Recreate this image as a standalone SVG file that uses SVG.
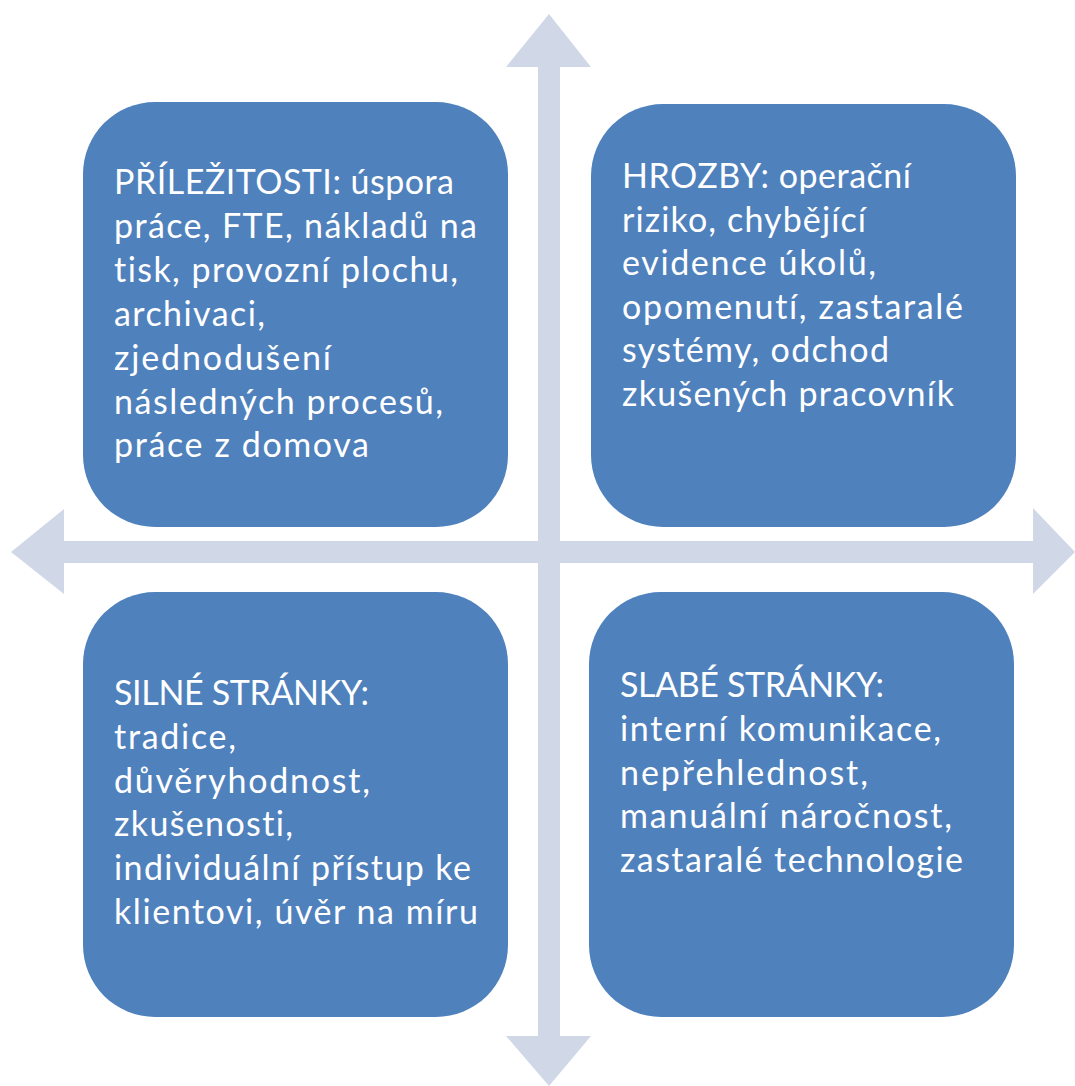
<svg xmlns="http://www.w3.org/2000/svg" width="1075" height="1086" viewBox="0 0 1075 1086">
  <style>
    .axis { fill: #D0D8E8; }
    .box { fill: #4F81BD; }
    .label { font-family: Lato, "Liberation Sans", sans-serif; font-size: 34px; fill: #FFFFFF; font-variant-ligatures: none; }
  </style>
  <rect width="1075" height="1086" fill="#FFFFFF"/>

  <!-- axes: vertical and horizontal double-headed arrows -->
  <g id="connectors">
    <polygon class="axis" points="549,14 591,67 560,67 560,1036 591,1036 549,1086 506,1036 538,1036 538,67 506,67"/>
    <polygon class="axis" points="11,552 64,509 64,541 1033,541 1033,508 1075,552 1033,594 1033,563 64,563 64,594"/>
  </g>

  <!-- opportunities -->
  <g id="opportunities">
    <rect class="box" x="83" y="102" width="425" height="425" rx="72" ry="72"/>
    <text class="label" lengthAdjust="spacing">
      <tspan x="114" y="194" textLength="340">PŘÍLEŽITOSTI: úspora</tspan>
      <tspan x="114" y="238" textLength="363">práce, FTE, nákladů na</tspan>
      <tspan x="114" y="282" textLength="344">tisk, provozní plochu,</tspan>
      <tspan x="114" y="326" textLength="151">archivaci,</tspan>
      <tspan x="114" y="370" textLength="217">zjednodušení</tspan>
      <tspan x="114" y="414" textLength="329">následných procesů,</tspan>
      <tspan x="114" y="457" textLength="255">práce z domova</tspan>
    </text>
  </g>

  <!-- threats -->
  <g id="threats">
    <rect class="box" x="591" y="104" width="425" height="423" rx="72" ry="72"/>
    <text class="label">
      <tspan x="622" y="188" textLength="289">HROZBY: operační</tspan>
      <tspan x="622" y="232" textLength="244">riziko, chybějící</tspan>
      <tspan x="622" y="275" textLength="254">evidence úkolů,</tspan>
      <tspan x="622" y="319" textLength="341">opomenutí, zastaralé</tspan>
      <tspan x="622" y="362" textLength="267">systémy, odchod</tspan>
      <tspan x="622" y="406" textLength="332">zkušených pracovník</tspan>
    </text>
  </g>

  <!-- strengths -->
  <g id="strengths">
    <rect class="box" x="83" y="592" width="425" height="425" rx="72" ry="72"/>
    <text class="label">
      <tspan x="114" y="705" textLength="255">SILNÉ STRÁNKY:</tspan>
      <tspan x="114" y="749" textLength="122">tradice,</tspan>
      <tspan x="114" y="793" textLength="256">důvěryhodnost,</tspan>
      <tspan x="114" y="836" textLength="179">zkušenosti,</tspan>
      <tspan x="114" y="880" textLength="357">individuální přístup ke</tspan>
      <tspan x="114" y="924" textLength="364">klientovi, úvěr na míru</tspan>
    </text>
  </g>

  <!-- weaknesses -->
  <g id="weaknesses">
    <rect class="box" x="589" y="592" width="425" height="425" rx="72" ry="72"/>
    <text class="label">
      <tspan x="620" y="697" textLength="264">SLABÉ STRÁNKY:</tspan>
      <tspan x="620" y="741" textLength="321">interní komunikace,</tspan>
      <tspan x="620" y="785" textLength="248">nepřehlednost,</tspan>
      <tspan x="620" y="828" textLength="332">manuální náročnost,</tspan>
      <tspan x="620" y="872" textLength="343">zastaralé technologie</tspan>
    </text>
  </g>
</svg>
